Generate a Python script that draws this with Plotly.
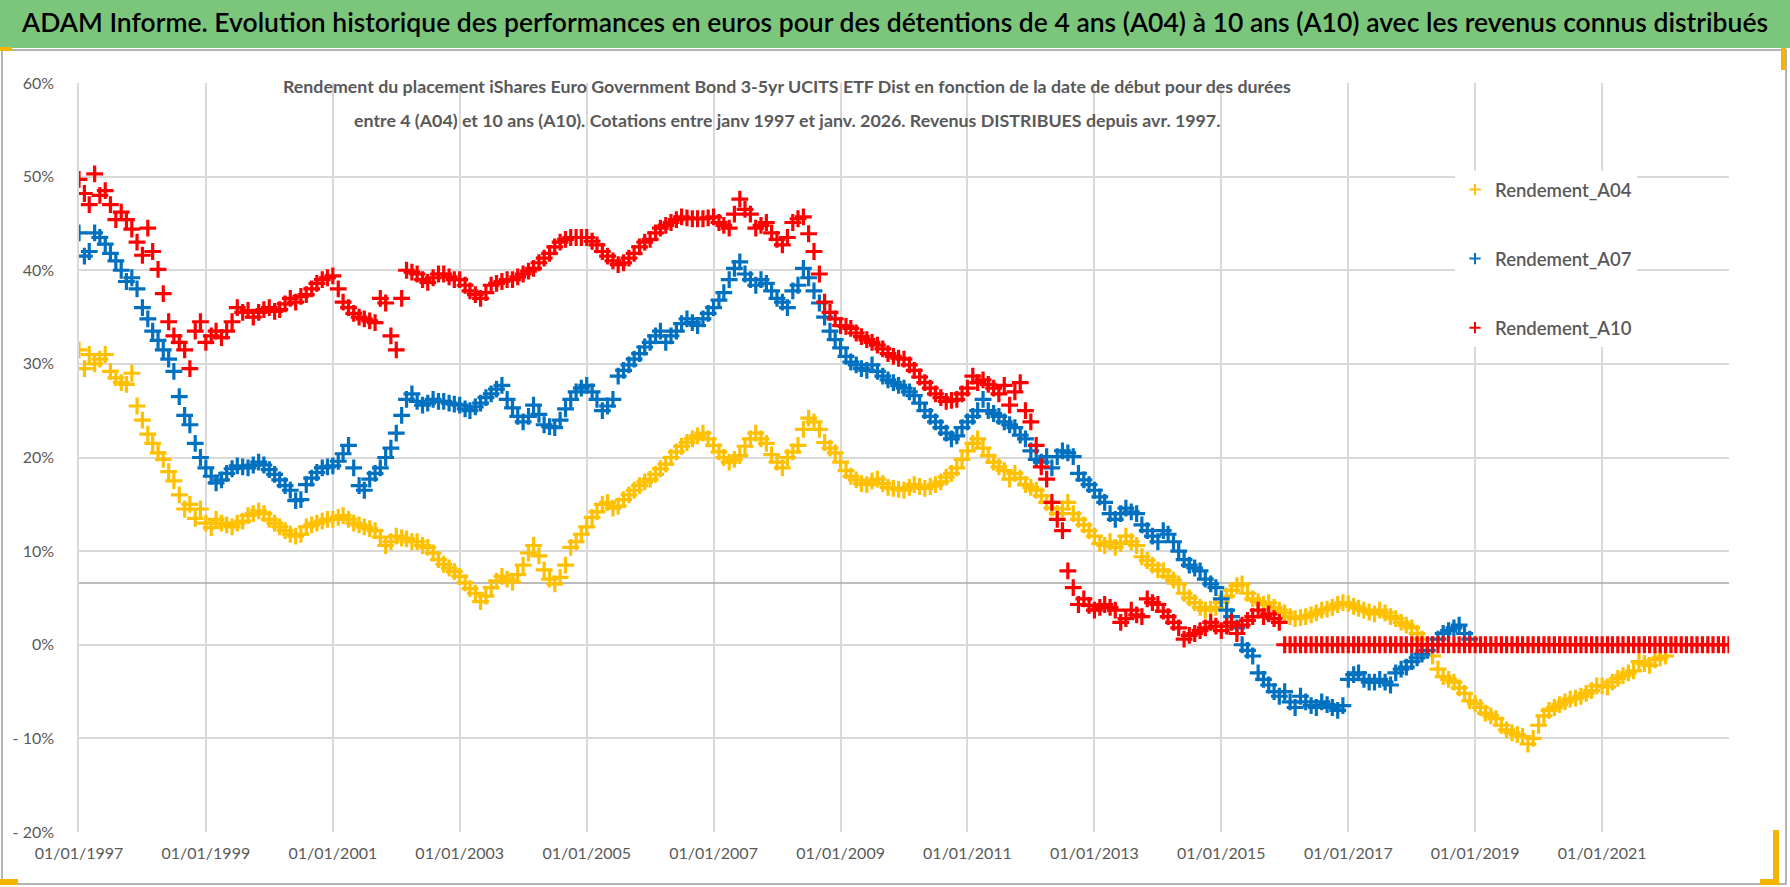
import pandas as pd
import plotly.graph_objects as go

# ---------------- DATA (% values) ----------------
TITLE = ("ADAM Informe. Evolution historique des performances en euros pour des détentions "
         "de 4 ans (A04) à 10 ans (A10) avec les revenus connus distribués")
SUB1 = ("Rendement du placement iShares Euro Government Bond 3-5yr UCITS ETF Dist en fonction "
        "de la date de début pour des durées")
SUB2 = ("entre 4 (A04) et 10 ans (A10). Cotations entre janv 1997 et janv. 2026. "
        "Revenus DISTRIBUES depuis avr. 1997.")

series_names = ["Rendement_A04", "Rendement_A07", "Rendement_A10"]
series_colors = ["#FFC000", "#0070C0", "#FF0000"]

# monthly values, first value = Jan 1997
a04_start = "1997-01-01"
a04_values = [
    31.5, 29.5, 31.0, 30.0, 30.5, 31.0, 29.2, 28.5, 28.0, 27.8, 29.0, 25.5,   # 1997
    24.0, 22.5, 21.5, 20.5, 19.8, 18.5, 17.5, 16.0, 14.5, 15.0, 13.5, 14.5,   # 1998
    13.0, 12.5, 13.4, 13.0, 12.8, 12.6, 13.0, 13.2, 13.8, 14.0, 14.3, 14.0,   # 1999
    13.4, 13.0, 12.6, 12.2, 11.8, 11.6, 11.8, 12.6, 12.8, 13.0, 13.2, 13.4,   # 2000
    13.4, 13.6, 13.8, 13.4, 13.0, 12.8, 12.6, 12.4, 12.2, 11.5, 10.6, 11.0,   # 2001
    11.6, 11.4, 11.3, 11.0, 11.0, 10.6, 10.4, 9.8, 9.1, 8.6, 8.2, 7.8,        # 2002
    7.3, 6.6, 6.0, 5.5, 4.6, 5.2, 6.1, 6.8, 7.3, 7.0, 6.7, 7.5,               # 2003
    8.5, 9.8, 10.6, 9.5, 8.0, 7.0, 6.5, 7.2, 8.5, 10.4, 11.0, 11.8,           # 2004
    12.6, 13.6, 14.2, 15.0, 15.2, 14.6, 14.8, 15.5, 16.0, 16.5, 17.0, 17.4,   # 2005
    17.7, 18.2, 18.8, 19.3, 20.0, 20.6, 21.2, 21.6, 22.0, 22.3, 22.6, 22.0,   # 2006
    21.3, 20.6, 20.0, 19.5, 19.8, 20.2, 21.2, 22.0, 22.6, 22.0, 21.5, 20.3,   # 2007
    19.5, 18.9, 20.0, 20.6, 21.3, 23.0, 24.2, 23.8, 23.0, 21.6, 21.0, 20.5,   # 2008
    19.5, 18.6, 18.0, 17.6, 17.2, 17.1, 17.5, 17.7, 17.2, 16.8, 16.7, 16.6,   # 2009
    16.5, 16.8, 17.1, 16.9, 16.7, 16.9, 17.1, 17.4, 17.9, 18.3, 18.9, 19.8,   # 2010
    20.7, 21.5, 22.0, 21.0, 20.2, 19.5, 19.0, 18.6, 17.7, 18.3, 17.8, 17.1,   # 2011
    16.8, 16.5, 15.9, 15.2, 14.6, 14.0, 14.5, 15.2, 14.0, 13.4, 12.8, 12.2,   # 2012
    11.6, 10.8, 10.6, 11.0, 10.4, 10.8, 11.6, 11.0, 10.6, 9.4, 9.0, 8.5,      # 2013
    8.0, 7.9, 7.3, 6.9, 6.5, 5.5, 5.0, 4.5, 4.0, 3.7, 3.8, 4.0,               # 2014
    4.5, 5.2, 5.8, 6.3, 6.5, 5.5, 4.9, 4.6, 4.3, 4.5, 4.0, 3.7,               # 2015
    3.4, 3.0, 2.8, 2.9, 3.0, 3.2, 3.4, 3.7, 3.8, 4.0, 4.3, 4.5,               # 2016
    4.4, 4.1, 3.9, 3.7, 3.5, 3.3, 3.7, 3.4, 3.0, 2.8, 2.4, 2.1,               # 2017
    1.8, 1.2, 0.6, 0.0, -1.2, -2.6, -3.4, -3.7, -4.0, -4.6, -5.2, -6.0,       # 2018
    -6.3, -6.7, -7.3, -7.6, -7.9, -8.6, -9.1, -9.4, -9.6, -9.8, -10.6, -10.0, # 2019
    -8.6, -7.6, -7.0, -6.7, -6.4, -6.1, -5.8, -5.7, -5.5, -5.2, -4.9, -4.4,   # 2020
    -4.4, -4.5, -4.0, -3.6, -3.3, -3.0, -2.8, -1.8, -2.0, -2.2, -1.6, -1.4,   # 2021
    -1.2,                                                                     # 2022
]

a07_start = "1997-01-01"
a07_values = [
    44.0, 41.5, 42.0, 44.0, 43.5, 42.8, 41.8, 41.0, 40.0, 38.8, 39.2, 38.0,   # 1997
    36.0, 34.8, 33.5, 32.5, 31.5, 30.5, 29.2, 26.5, 24.5, 23.5, 21.5, 20.0,   # 1998
    18.9, 18.0, 17.3, 17.6, 18.3, 18.8, 19.1, 19.0, 18.9, 19.2, 19.5, 19.2,   # 1999
    18.7, 18.2, 17.6, 17.0, 16.5, 15.4, 15.5, 17.1, 17.8, 18.4, 18.9, 19.0,   # 2000
    19.1, 19.6, 20.4, 21.3, 18.9, 17.0, 16.5, 17.7, 18.3, 18.9, 20.0, 21.0,   # 2001
    22.6, 24.5, 26.2, 26.8, 26.0, 25.6, 25.8, 26.2, 26.0, 26.0, 25.8, 25.7,   # 2002
    25.6, 25.2, 25.0, 25.4, 25.8, 26.4, 26.8, 27.3, 27.7, 26.2, 25.3, 24.4,   # 2003
    23.8, 24.4, 25.6, 24.6, 23.5, 23.3, 23.2, 24.0, 25.2, 26.2, 27.0, 27.4,   # 2004
    27.7, 27.0, 26.2, 25.0, 25.5, 26.2, 28.7, 29.3, 29.9, 30.5, 31.1, 31.8,   # 2005
    32.3, 33.0, 33.5, 32.3, 33.0, 33.5, 34.3, 34.8, 34.4, 34.1, 34.8, 35.4,   # 2006
    36.0, 36.8, 37.6, 39.0, 40.2, 40.9, 39.6, 39.0, 38.4, 39.0, 38.6, 37.8,   # 2007
    37.0, 36.6, 36.0, 37.8, 38.4, 40.2, 39.2, 37.8, 36.5, 35.0, 33.5, 32.6,   # 2008
    31.7, 30.8, 30.2, 29.9, 29.5, 29.3, 29.9, 29.2, 28.7, 28.3, 28.0, 27.7,   # 2009
    27.4, 27.0, 26.6, 25.8, 25.0, 24.4, 23.8, 23.2, 22.6, 22.0, 22.3, 23.2,   # 2010
    23.8, 24.4, 25.0, 26.2, 25.0, 24.7, 24.4, 23.8, 23.5, 23.2, 22.4, 22.0,   # 2011
    20.7, 19.8, 19.5, 20.1, 18.9, 20.1, 20.7, 20.5, 20.1, 18.3, 17.6, 17.1,   # 2012
    16.5, 15.8, 15.2, 14.0, 13.4, 14.0, 14.6, 14.2, 14.0, 12.8, 12.2, 11.6,   # 2013
    11.0, 12.2, 11.8, 11.0, 10.0, 9.1, 8.5, 8.2, 7.9, 7.0, 6.5, 6.1,          # 2014
    4.9, 3.7, 3.0, 1.8, 0.0, -0.6, -1.2, -3.0, -3.7, -4.3, -5.0, -5.5,        # 2015
    -5.0, -6.1, -6.7, -5.5, -6.1, -6.5, -6.7, -6.1, -6.4, -6.7, -7.0, -6.5,   # 2016
    -3.7, -3.2, -3.0, -3.7, -4.0, -4.0, -3.7, -4.0, -4.3, -3.0, -2.6, -2.4,   # 2017
    -1.8, -1.4, -1.0, -0.6, 0.0, 0.6, 1.2, 1.5, 1.8, 2.1, 1.2, 0.6,           # 2018
]

a10_start = "1997-01-01"
a10_values = [
    49.7, 48.2, 47.0, 50.3, 48.0, 48.5, 47.0, 45.4, 46.2, 45.4, 44.4, 43.0,   # 1997
    41.6, 44.5, 42.0, 40.1, 37.5, 34.5, 33.0, 32.3, 31.5, 29.5, 33.5, 34.5,   # 1998
    32.3, 33.0, 33.5, 32.8, 33.5, 34.5, 36.0, 35.5, 35.7, 35.0, 35.5, 35.8,   # 1999
    36.0, 35.6, 35.8, 36.4, 37.0, 36.6, 37.2, 37.4, 38.0, 38.6, 39.0, 39.2,   # 2000
    39.4, 38.0, 36.6, 36.0, 35.4, 35.0, 34.8, 34.6, 34.4, 37.0, 36.5, 33.0,   # 2001
    31.5, 37.0, 40.0, 39.8, 39.6, 39.0, 38.7, 39.2, 39.6, 39.6, 39.3, 39.0,   # 2002
    39.0, 38.4, 37.8, 37.4, 37.0, 37.6, 38.4, 38.6, 38.8, 39.0, 39.0, 39.3,   # 2003
    39.6, 39.9, 40.2, 40.8, 41.3, 41.8, 42.5, 43.0, 43.3, 43.5, 43.5, 43.5,   # 2004
    43.5, 43.1, 42.7, 42.0, 41.5, 41.0, 40.6, 40.8, 41.3, 41.8, 42.5, 43.0,   # 2005
    43.3, 44.0, 44.5, 44.8, 45.1, 45.4, 45.7, 45.6, 45.5, 45.5, 45.5, 45.6,   # 2006
    45.7, 45.1, 44.8, 44.5, 46.0, 47.6, 46.5, 46.0, 44.5, 44.8, 45.1, 44.0,   # 2007
    43.3, 42.7, 43.5, 45.1, 45.5, 45.7, 43.9, 42.0, 39.6, 36.6, 35.5, 34.8,   # 2008
    34.1, 34.0, 33.8, 33.3, 32.9, 32.6, 32.3, 32.0, 31.6, 31.1, 30.8, 30.6,   # 2009
    30.5, 29.9, 29.3, 28.6, 28.0, 27.4, 26.8, 26.4, 26.0, 26.1, 26.2, 26.8,   # 2010
    27.4, 28.7, 28.0, 28.3, 27.8, 27.4, 26.8, 27.7, 25.6, 27.0, 28.0, 25.0,   # 2011
    23.8, 21.3, 19.0, 17.7, 15.2, 13.4, 12.2, 7.9, 6.1, 4.3, 4.9, 4.2,        # 2012
    3.7, 4.0, 4.3, 4.0, 3.7, 2.4, 2.8, 3.7, 3.2, 3.0, 4.9, 4.5,               # 2013
    4.3, 3.6, 3.0, 2.4, 1.8, 0.6, 1.0, 1.2, 1.5, 1.8, 2.4, 2.0,               # 2014
    1.5, 2.0, 2.4, 1.2, 2.1, 2.6, 3.0, 3.7, 3.0, 3.3, 2.8, 2.4,               # 2015
    0.0, 0.0, 0.0, 0.0, 0.0, 0.0, 0.0, 0.0, 0.0, 0.0, 0.0, 0.0,               # 2016
    0.0, 0.0, 0.0, 0.0, 0.0, 0.0, 0.0, 0.0, 0.0, 0.0, 0.0, 0.0,               # 2017
    0.0, 0.0, 0.0, 0.0, 0.0, 0.0, 0.0, 0.0, 0.0, 0.0, 0.0, 0.0,               # 2018
    0.0, 0.0, 0.0, 0.0, 0.0, 0.0, 0.0, 0.0, 0.0, 0.0, 0.0, 0.0,               # 2019
    0.0, 0.0, 0.0, 0.0, 0.0, 0.0, 0.0, 0.0, 0.0, 0.0, 0.0, 0.0,               # 2020
    0.0, 0.0, 0.0, 0.0, 0.0, 0.0, 0.0, 0.0, 0.0, 0.0, 0.0, 0.0,               # 2021
    0.0, 0.0, 0.0, 0.0, 0.0, 0.0, 0.0, 0.0, 0.0, 0.0, 0.0, 0.0,               # 2022
    0.0,                                                                      # 2023
]

ref_line_value = 6.6          # grey horizontal reference line (%)
x_range = ["1997-01-01", "2023-01-01"]
x_tick_dates = ["1997-01-01", "1999-01-01", "2001-01-01", "2003-01-01", "2005-01-01",
                "2007-01-01", "2009-01-01", "2011-01-01", "2013-01-01", "2015-01-01",
                "2017-01-01", "2019-01-01", "2021-01-01"]
x_tick_labels = ["01/01/1997", "01/01/1999", "01/01/2001", "01/01/2003", "01/01/2005",
                 "01/01/2007", "01/01/2009", "01/01/2011", "01/01/2013", "01/01/2015",
                 "01/01/2017", "01/01/2019", "01/01/2021"]
y_tick_values = [-20, -10, 0, 10, 20, 30, 40, 50, 60]
y_tick_labels = ["- 20%", "- 10%", "0%", "10%", "20%", "30%", "40%", "50%", "60%"]

# ---------------- LAYOUT GEOMETRY (pixels) ----------------
W, H = 1790, 887
PL, PR, PT, PB = 79, 1729, 83, 832
FONT = "Lato"
GREY_TXT = "#595959"
YELLOW_HANDLE = "#F4B400"


def px(x):
    return (x - PL) / (PR - PL)


def py(y):
    return (PB - y) / (PB - PT)


fig = go.Figure()

# grey reference line
fig.add_trace(go.Scatter(x=x_range, y=[ref_line_value, ref_line_value], mode="lines",
                         line=dict(color="#A6A6A6", width=1.6), showlegend=False,
                         hoverinfo="skip"))

all_series = [(a04_start, a04_values), (a07_start, a07_values), (a10_start, a10_values)]
for (start, vals), name, col in zip(all_series, series_names, series_colors):
    dates = pd.date_range(start, periods=len(vals), freq="MS")
    fig.add_trace(go.Scatter(
        x=dates, y=vals, mode="markers", name=name, legendgroup=name, showlegend=False,
        marker=dict(symbol="cross-thin", size=12, color=col,
                    line=dict(color=col, width=3.2)),
    ))
    # legend entry with the small marker used by the reference legend
    fig.add_trace(go.Scatter(
        x=[None], y=[None], mode="markers", name=name, legendgroup=name, showlegend=True,
        marker=dict(symbol="cross-thin", size=8, color=col, line=dict(color=col, width=2)),
    ))

shapes = [
    # green title band
    dict(type="rect", xref="paper", yref="paper", x0=px(0), x1=px(W), y0=py(48), y1=py(0),
         fillcolor="#7CC67C", line=dict(width=0), layer="below"),
    # chart frame
    dict(type="rect", xref="paper", yref="paper", x0=px(2), x1=px(1786), y0=py(884), y1=py(50),
         fillcolor="rgba(0,0,0,0)", line=dict(color="#9A9A9A", width=1.5), layer="below"),
    # white box behind the subtitle
    dict(type="rect", xref="paper", yref="paper", x0=px(277), x1=px(1300), y0=py(153), y1=py(62),
         fillcolor="white", line=dict(width=0), layer="between"),
    # white box behind the legend
    dict(type="rect", xref="paper", yref="paper", x0=px(1461), x1=px(1760), y0=py(355), y1=py(155),
         fillcolor="white", line=dict(width=0), layer="between"),
    # selection handles (yellow)
    dict(type="rect", xref="paper", yref="paper", x0=px(0), x1=px(18), y0=py(885), y1=py(879),
         fillcolor=YELLOW_HANDLE, line=dict(width=0)),
    dict(type="rect", xref="paper", yref="paper", x0=px(1773), x1=px(1779), y0=py(880), y1=py(830),
         fillcolor=YELLOW_HANDLE, line=dict(width=0)),
    dict(type="rect", xref="paper", yref="paper", x0=px(1760), x1=px(1779), y0=py(885), y1=py(879),
         fillcolor=YELLOW_HANDLE, line=dict(width=0)),
    dict(type="rect", xref="paper", yref="paper", x0=px(1781), x1=px(1786), y0=py(70), y1=py(48),
         fillcolor=YELLOW_HANDLE, line=dict(width=0)),
    dict(type="rect", xref="paper", yref="paper", x0=px(0), x1=px(12), y0=py(51), y1=py(47),
         fillcolor=YELLOW_HANDLE, line=dict(width=0)),
]

annotations = [
    dict(xref="paper", yref="paper", x=px(894), y=py(22), text=TITLE, showarrow=False,
         xanchor="center", yanchor="middle",
         font=dict(family=FONT, size=26.5, color="black", weight=600)),
    dict(xref="paper", yref="paper", x=px(787), y=py(86), text="<b>" + SUB1 + "</b>",
         showarrow=False, xanchor="center", yanchor="middle",
         font=dict(family=FONT, size=17.8, color=GREY_TXT)),
    dict(xref="paper", yref="paper", x=px(787), y=py(120), text="<b>" + SUB2 + "</b>",
         showarrow=False, xanchor="center", yanchor="middle",
         font=dict(family=FONT, size=17.8, color=GREY_TXT)),
]

fig.update_layout(
    width=W, height=H,
    margin=dict(l=PL, r=W - PR, t=PT, b=H - PB, pad=0),
    paper_bgcolor="white", plot_bgcolor="white",
    shapes=shapes, annotations=annotations,
    showlegend=True,
    legend=dict(x=px(1455), y=py(171), xanchor="left", yanchor="top",
                bgcolor="white", borderwidth=0, tracegroupgap=42,
                font=dict(family=FONT, size=18.5, color=GREY_TXT, weight=600)),
    xaxis=dict(type="date", range=x_range, tickmode="array", tickvals=x_tick_dates,
               ticktext=x_tick_labels, showgrid=True, gridcolor="#D9D9D9", gridwidth=1.5,
               zeroline=False, showline=False, ticks="",
               tickfont=dict(family=FONT, size=16, color=GREY_TXT), ticklabelstandoff=10),
    yaxis=dict(range=[-20, 60], tickmode="array", tickvals=y_tick_values,
               ticktext=y_tick_labels, showgrid=True, gridcolor="#D9D9D9", gridwidth=1.5,
               zeroline=False, showline=True, linecolor="#D9D9D9", linewidth=1.5, ticks="",
               ticklen=0, tickfont=dict(family=FONT, size=16, color=GREY_TXT),
               ticklabelstandoff=20),
    font=dict(family=FONT),
)

fig.write_html("out.html", config={"displayModeBar": False},
               post_script="document.body.style.margin='0px';")
